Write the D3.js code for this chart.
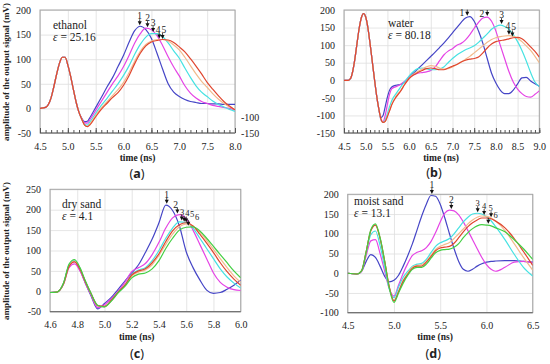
<!DOCTYPE html>
<html>
<head>
<meta charset="utf-8">
<script src="https://cdn.jsdelivr.net/npm/d3@7"></script>
<style>
  body { margin: 0; background: #fff; }
  svg text { font-family: "Liberation Serif", "DejaVu Serif", serif; fill: #222; }
  .grid line { stroke: #dedede; stroke-width: 0.8; }
  .ticks text { font-size: 10px; font-family: "Liberation Serif", "DejaVu Serif", serif; }
  .ticks line { stroke: #555; }
  .trace { fill: none; stroke-width: 1.2; }
</style>
</head>
<body>
<svg id="chart" width="550" height="364"></svg>
<script>
// ---- (a) ethanol ----
const ethanolTime = [4.5, 4.6, 4.65, 4.7, 4.75, 4.8, 4.85, 4.9, 4.95, 5.0, 5.05, 5.1, 5.15, 5.2, 5.25, 5.3, 5.35, 5.4,
  5.5, 5.6, 5.7, 5.8, 5.9, 6.0, 6.1, 6.2, 6.3, 6.4, 6.5, 6.6, 6.7, 6.8, 6.9, 7.0, 7.1, 7.2, 7.3, 7.4, 7.5, 7.6, 7.7, 7.8, 7.9, 8.0];
const ethanolPulse = [0, 2, 8, 22, 45, 70, 92, 104, 104, 88, 65, 38, 12, -8];
const ethanol1 = ethanolPulse.concat([-20, -27, -26, -18,
  2, 22, 43, 62, 85, 108, 135, 158, 167, 160, 142, 112, 80, 50, 33, 24, 18, 14, 12, 10, 10, 9, 9, 8, 8, 8]);
const ethanol2 = ethanolPulse.concat([-21, -29, -30, -22,
  -4, 14, 32, 50, 66, 85, 108, 133, 152, 163, 160, 148, 128, 105, 84, 66, 46, 31, 21, 14, 10, 6, 4, 2, 0, -3]);
const ethanol3 = ethanolPulse.concat([-22, -32, -34, -27,
  -10, 6, 20, 35, 50, 67, 87, 110, 130, 145, 152, 152, 146, 133, 117, 102, 82, 63, 46, 33, 24, 15, 8, 3, -2, -6]);
const ethanol4 = ethanolPulse.concat([-22, -34, -37, -31,
  -14, 1, 13, 26, 38, 53, 73, 96, 116, 130, 137, 140, 140, 137, 129, 119, 104, 87, 70, 55, 43, 30, 19, 10, 3, -2]);
const ethanol5 = ethanolPulse.concat([-22, -34, -37, -33,
  -17, -2, 10, 22, 32, 47, 67, 91, 112, 127, 135, 138, 140, 139, 134, 125, 115, 101, 86, 70, 53, 39, 26, 14, 5, -3]);
const ethanolPeakT = [6.29, 6.43, 6.53, 6.64, 6.70];
const ethanolPeakV = [167, 163, 153, 140, 139];
const ethanolXTicks = [4.5, 5.0, 5.5, 6.0, 6.5, 7.0, 7.5, 8.0];
const ethanolYTicks = [-50, 0, 50, 100, 150, 200];
const ethanolRightTicks = [-150, -100];

// ---- (b) water ----
const waterTime = [4.5, 4.6, 4.65, 4.7, 4.75, 4.8, 4.85, 4.9, 4.95, 5.0, 5.05, 5.1, 5.15, 5.2, 5.25, 5.3,
  5.35, 5.4, 5.45, 5.5, 5.55, 5.6,
  5.7, 5.8, 5.9, 6.0, 6.1, 6.2, 6.3, 6.4, 6.5, 6.6, 6.7, 6.8, 6.9, 7.0, 7.1, 7.2, 7.3, 7.4, 7.5, 7.6, 7.7,
  7.8, 7.9, 8.0, 8.1, 8.2, 8.3, 8.4, 8.5, 8.6, 8.7, 8.8, 8.9, 9.0];
const waterPulse = [0, 0, 5, 25, 60, 105, 148, 178, 190, 180, 150, 105, 55, 5, -42, -80];
const water1 = waterPulse.concat([-106, -100, -75, -48, -28, -19,
  -14, -12, -5, 8, 20, 32, 44, 56, 68, 80, 93, 106, 120, 135, 150, 165, 177, 181, 168, 140, 105,
  62, 20, -8, -28, -38, -38, -28, -10, 7, 8, -2, -10, -17]);
const water2 = waterPulse.concat([-112, -118, -100, -68, -40, -24,
  -18, -12, -3, 8, 15, 20, 22, 24, 28, 38, 55, 72, 83, 90, 100, 105, 115, 130, 148, 165, 177,
  180, 168, 140, 100, 62, 25, -5, -25, -38, -46, -48, -40, -30]);
const water3 = waterPulse.concat([-112, -120, -113, -95, -75, -58,
  -38, -20, -3, 12, 25, 33, 35, 33, 30, 30, 32, 38, 50, 62, 72, 80, 87, 92, 98, 108, 120,
  132, 145, 153, 157, 153, 145, 130, 110, 85, 55, 22, -5, -18]);
const water4 = waterPulse.concat([-110, -120, -117, -102, -85, -68,
  -45, -30, -10, 5, 17, 25, 32, 38, 42, 40, 35, 32, 33, 38, 45, 52, 60, 68, 78, 88, 98,
  108, 116, 121, 124, 126, 127, 125, 120, 110, 98, 85, 68, 50]);
const water5 = waterPulse.concat([-110, -120, -117, -103, -87, -70,
  -48, -32, -12, 5, 15, 22, 28, 33, 35, 33, 30, 30, 35, 40, 45, 52, 57, 60, 62, 66, 78,
  92, 103, 110, 113, 115, 118, 121, 122, 118, 108, 95, 82, 66]);
const waterPeakT = [7.34, 7.80, 8.13, 8.30, 8.38];
const waterPeakV = [181, 180, 157, 127, 122];
const waterXTicks = [4.5, 5.0, 5.5, 6.0, 6.5, 7.0, 7.5, 8.0, 8.5, 9.0];
const waterYTicks = [-150, -100, -50, 0, 50, 100, 150, 200];

// ---- (c) dry sand ----
const drySandTime = [4.6, 4.65, 4.7, 4.74, 4.78, 4.82, 4.86, 4.9, 4.95, 5.0, 5.05, 5.1, 5.15, 5.2, 5.25,
  5.3, 5.35, 5.4, 5.45, 5.5, 5.55, 5.6, 5.65, 5.7, 5.75, 5.8, 5.85, 5.9, 5.95, 6.0];
const drySand1 = [-3, -2, 20, 63, 73, 52, 20, -10, -43, -30, -15, 5, 25, 45, 65,
  95, 128, 168, 211, 198, 160, 97, 58, 28, 3, -5, -3, 5, 15, 27];
const drySand2 = [-3, -2, 18, 58, 67, 50, 20, -8, -40, -33, -18, 0, 22, 48, 58,
  68, 90, 120, 155, 180, 188, 178, 150, 115, 80, 45, 22, 10, 4, 2];
const drySand3 = [-3, -2, 20, 65, 76, 56, 24, -5, -36, -38, -22, -2, 15, 42, 52,
  58, 75, 100, 130, 155, 170, 168, 155, 130, 105, 80, 55, 35, 20, 8];
const drySand4 = [-3, -2, 19, 62, 74, 55, 24, -5, -35, -38, -23, -3, 15, 38, 47,
  52, 65, 88, 115, 140, 158, 165, 160, 145, 125, 103, 80, 58, 38, 22];
const drySand5 = [-3, -2, 19, 61, 72, 54, 23, -5, -35, -37, -22, -2, 15, 40, 50,
  55, 70, 92, 122, 148, 163, 168, 160, 140, 118, 95, 70, 48, 30, 15];
const drySand6 = [-3, -2, 21, 67, 78, 58, 25, -4, -34, -38, -24, -4, 12, 33, 42,
  45, 55, 75, 105, 130, 150, 157, 158, 148, 130, 110, 90, 70, 50, 33];
const drySandPeakT = [5.457, 5.535, 5.567, 5.585, 5.60, 5.615];
const drySandPeakV = [212, 188, 171, 168, 166, 158];
const drySandXTicks = [4.6, 4.8, 5.0, 5.2, 5.4, 5.6, 5.8, 6.0];
const drySandYTicks = [-50, 0, 50, 100, 150, 200, 250];

// ---- (d) moist sand ----
const moistSandTime = [4.5, 4.6, 4.65, 4.7, 4.75, 4.8, 4.85, 4.9, 4.95, 5.0, 5.05, 5.1, 5.15, 5.2, 5.25,
  5.3, 5.35, 5.4, 5.45, 5.5, 5.55, 5.6, 5.65, 5.7, 5.75, 5.8, 5.85, 5.9, 5.95, 6.0, 6.05, 6.1,
  6.2, 6.3, 6.4, 6.5];
const moistSand1 = [0, -2, 5, 30, 47, 40, 18, -8, -22, -18, -5, 18, 45, 75, 110,
  145, 175, 197, 195, 175, 140, 100, 62, 30, 10, 5, 10, 18, 24, 28, 30, 31, 32, 32, 30, 28];
const moistSand2 = [0, -2, 5, 45, 82, 85, 50, 5, -40, -58, -30, 0, 25, 45, 53,
  57, 65, 80, 103, 130, 152, 160, 158, 148, 130, 108, 85, 62, 40, 22, 10, 5, 15, 28, 30, 27];
const moistSand3 = [0, -2, 6, 52, 98, 107, 70, 15, -40, -62, -35, -10, 5, 18, 23,
  25, 35, 52, 68, 77, 82, 88, 100, 115, 130, 142, 150, 152, 150, 143, 133, 118, 85, 48, 15, -7];
const moistSand4 = [0, -2, 6, 55, 108, 122, 90, 30, -35, -70, -45, -18, 0, 15, 20,
  22, 30, 45, 60, 68, 73, 78, 88, 100, 112, 125, 135, 142, 145, 144, 140, 132, 108, 75, 40, 8];
const moistSand5 = [0, -2, 6, 55, 108, 122, 88, 30, -35, -70, -47, -20, -2, 13, 18,
  18, 28, 42, 57, 64, 66, 68, 76, 90, 105, 118, 128, 135, 140, 140, 138, 132, 115, 88, 55, 20];
const moistSand6 = [0, -2, 6, 55, 110, 125, 90, 30, -38, -74, -50, -25, -5, 10, 15,
  15, 23, 38, 52, 58, 60, 61, 66, 75, 90, 103, 113, 120, 123, 122, 120, 115, 105, 85, 62, 35];
const moistSandPeakT = [5.41, 5.62, 5.905, 5.975, 6.05, 6.02];
const moistSandPeakV = [198, 160, 152, 145, 139, 123];
const moistSandXTicks = [4.5, 5.0, 5.5, 6.0, 6.5];
const moistSandYTicks = [-100, -50, 0, 50, 100, 150, 200];

const colors = ['#4545c6', '#e544e5', '#46e2e2', '#f2ba8c', '#e0462f', '#43cf43'];

const panels = [
  { tag: 'a', name: 'ethanol', eps: '25.16', time: ethanolTime,
    series: [ethanol1, ethanol2, ethanol3, ethanol4, ethanol5],
    peakT: ethanolPeakT, peakV: ethanolPeakV, xTicks: ethanolXTicks, yTicks: ethanolYTicks,
    box: { l: 40, r: 235, t: 10, b: 133 }, minor: true, yTitle: 72, numDx: [0, 0, 0, -1, 1.3],
    nameX: 53, nameY: 28.5, timeX: 137.5, timeY: 161, tagX: 137, tagY: 178 },
  { tag: 'b', name: 'water', eps: '80.18', time: waterTime,
    series: [water1, water2, water3, water4, water5],
    peakT: waterPeakT, peakV: waterPeakV, xTicks: waterXTicks, yTicks: waterYTicks,
    box: { l: 344, r: 539.3, t: 10, b: 133 }, minor: true, side: [0, 1], numDx: [0, 0, 0, -1, 1.3],
    nameX: 388, nameY: 26.5, timeX: 441, timeY: 161, tagX: 434, tagY: 177 },
  { tag: 'c', name: 'dry sand', eps: '4.1', time: drySandTime,
    series: [drySand1, drySand2, drySand3, drySand4, drySand5, drySand6],
    peakT: drySandPeakT, peakV: drySandPeakV, xTicks: drySandXTicks, yTicks: drySandYTicks,
    box: { l: 50, r: 240.7, t: 189.3, b: 311.7 }, minor: false, yTitle: 251, numDx: [0, -1.8, 0.5, 3.2, 6, 8.8],
    nameX: 62, nameY: 207.5, timeX: 136.7, timeY: 339.5, tagX: 137, tagY: 357.5 },
  { tag: 'd', name: 'moist sand', eps: '13.1', time: moistSandTime,
    series: [moistSand1, moistSand2, moistSand3, moistSand4, moistSand5, moistSand6],
    peakT: moistSandPeakT, peakV: moistSandPeakV, xTicks: moistSandXTicks, yTicks: moistSandYTicks,
    box: { l: 347.7, r: 532.7, t: 194.3, b: 312.7 }, minor: false, numDx: [0, 0, 0, 0, -0.5, 7.2],
    nameX: 354, nameY: 204.5, timeX: 435, timeY: 339.5, tagX: 433.3, tagY: 357.5 }
];

const svg = d3.select('#chart');

panels.forEach(p => {
  const b = p.box;
  const x = d3.scaleLinear().domain(d3.extent(p.xTicks)).range([b.l, b.r]);
  const y = d3.scaleLinear().domain(d3.extent(p.yTicks)).range([b.b, b.t]);
  const g = svg.append('g');

  // grid
  g.append('g').attr('class', 'grid')
    .attr('transform', `translate(0,${b.b})`)
    .call(d3.axisBottom(x).tickValues(p.xTicks).tickSize(-(b.b - b.t)).tickFormat(''))
    .call(s => s.select('.domain').remove());
  g.append('g').attr('class', 'grid')
    .attr('transform', `translate(${b.l},0)`)
    .call(d3.axisLeft(y).tickValues(p.yTicks).tickSize(-(b.r - b.l)).tickFormat(''))
    .call(s => s.select('.domain').remove());

  g.append('rect')
    .attr('x', b.l).attr('y', b.t).attr('width', b.r - b.l).attr('height', b.b - b.t)
    .attr('fill', 'none').attr('stroke', '#a4a4a4').attr('stroke-width', 1);
  g.append('line')
    .attr('x1', b.l).attr('x2', b.r).attr('y1', b.b).attr('y2', b.b)
    .attr('stroke', '#666').attr('stroke-width', 1);

  // minor ticks along the time axis
  if (p.minor) {
    const lo = Math.round(p.xTicks[0] * 10), hi = Math.round(p.xTicks[p.xTicks.length - 1] * 10);
    g.append('g').attr('class', 'ticks')
      .attr('transform', `translate(0,${b.b})`)
      .call(d3.axisBottom(x).tickValues(d3.range(lo, hi + 1).map(v => v / 10)).tickSize(-3).tickFormat(''))
      .call(s => s.select('.domain').remove());
  }

  g.append('g').attr('class', 'ticks')
    .attr('transform', `translate(0,${b.b})`)
    .call(d3.axisBottom(x).tickValues(p.xTicks).tickSize(p.minor ? -5 : 0)
      .tickPadding(p.minor ? 10 : 9).tickFormat(d3.format('.1f')))
    .call(s => s.select('.domain').remove());

  g.append('g').attr('class', 'ticks')
    .attr('transform', `translate(${b.l},0)`)
    .call(d3.axisLeft(y).tickValues(p.yTicks).tickSize(0).tickPadding(9).tickFormat(d => String(d)))
    .call(s => s.select('.domain').remove());

  if (p.tag === 'a') {
    const yr = d3.scaleLinear().domain([-150, 230]).range([b.b, b.t]);
    g.append('g').attr('class', 'ticks')
      .attr('transform', `translate(${b.r},0)`)
      .call(d3.axisRight(yr).tickValues(ethanolRightTicks).tickSize(0).tickPadding(6).tickFormat(d => String(d)))
      .call(s => s.select('.domain').remove());
  }

  // traces
  const clipId = 'clip-' + p.tag;
  g.append('clipPath').attr('id', clipId)
    .append('rect').attr('x', b.l).attr('y', b.t).attr('width', b.r - b.l).attr('height', b.b - b.t);
  const line = d3.line()
    .x(d => x(d[0]))
    .y(d => y(d[1]))
    .curve(d3.curveMonotoneX);
  g.append('g').attr('clip-path', `url(#${clipId})`)
    .selectAll('path')
    .data(p.series)
    .join('path')
    .attr('class', 'trace')
    .attr('stroke', (d, i) => colors[i])
    .attr('d', d => line(d.map((v, i) => [p.time[i], v])));

  // peak markers
  const side = p.side || [];
  p.peakT.forEach((t, i) => {
    const px = x(t), tip = y(p.peakV[i]) - 1;
    g.append('path')
      .attr('d', `M${px - 2},${tip - 4}L${px + 2},${tip - 4}L${px},${tip}Z`)
      .attr('fill', '#111');
    g.append('line')
      .attr('x1', px).attr('x2', px).attr('y1', tip - 6).attr('y2', tip - 3.5)
      .attr('stroke', '#111').attr('stroke-width', 0.8);
    if (side.includes(i)) {
      g.append('text').attr('x', px - 3).attr('y', tip + 0.5)
        .attr('text-anchor', 'end').attr('font-size', 9.5).text(i + 1);
    } else {
      g.append('text').attr('x', px + p.numDx[i]).attr('y', tip - 6)
        .attr('text-anchor', 'middle').attr('font-size', p.peakT.length > 5 && i > 1 ? 8.5 : 9.5).text(i + 1);
    }
  });

  // medium name and permittivity
  g.append('text').attr('x', p.nameX).attr('y', p.nameY)
    .attr('font-size', 11.5).text(p.name);
  const eps = g.append('text').attr('x', p.nameX).attr('y', p.nameY + 12)
    .attr('font-size', 11.5);
  eps.append('tspan').attr('font-style', 'italic').text('ε');
  eps.append('tspan').text(' = ' + p.eps);

  g.append('text').attr('x', p.timeX).attr('y', p.timeY)
    .attr('text-anchor', 'middle').attr('font-size', 9.5).attr('font-weight', 'bold')
    .text('time (ns)');

  const tag = g.append('text').attr('x', p.tagX).attr('y', p.tagY)
    .attr('text-anchor', 'middle').attr('font-size', 12.5)
    .style('font-family', '"Noto Sans", "Open Sans", sans-serif');
  tag.append('tspan').text('(');
  tag.append('tspan').attr('font-weight', 'bold').text(p.tag);
  tag.append('tspan').text(')');

  if (p.yTitle) {
    g.append('text')
      .attr('transform', `translate(9,${p.yTitle}) rotate(-90)`)
      .attr('text-anchor', 'middle').attr('font-size', 9).attr('font-weight', 'bold')
      .text('amplitude of the output signal (mV)');
  }
});
</script>
</body>
</html>
